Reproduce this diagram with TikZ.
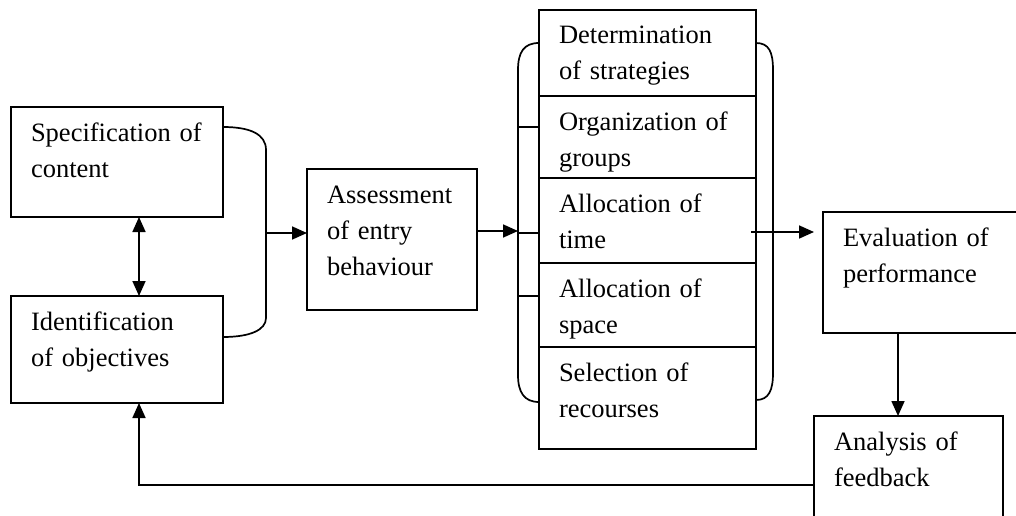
\documentclass[tikz,border=0pt]{standalone}
\usepackage{fontspec}
\setmainfont{Liberation Serif}
\usetikzlibrary{arrows.meta,positioning,calc}
\tikzset{
  blk/.style={draw, line width=1.7pt, anchor=north west, align=left, outer sep=0pt,
    inner xsep=20pt, inner ysep=8pt, text height=26pt, font=\fontsize{26.5}{36}\selectfont},
  cell/.style={blk, text width=177pt},
  link/.style={line width=1.7pt},
  arr/.style={link, -{Triangle[length=15pt,width=13pt]}},
  darr/.style={link, {Triangle[length=15pt,width=13pt]}-{Triangle[length=15pt,width=13pt]}},
}

\begin{document}
\begin{tikzpicture}[x=1pt,y=-1pt]
\useasboundingbox (0,0) rectangle (1016,516);
% left pair and entry box
\node[blk, text width=172pt, text depth=68pt] (spec) at (11,107) {Specification of\\content};
\node[blk, text width=172pt, text depth=65pt] (ident) at (11,296) {Identification\\of objectives};
\node[blk, text width=130pt, text depth=99pt] (assess) at (307,169) {Assessment\\of entry\\behaviour};
% middle column
\node[cell, text depth=44pt] (det) at (539,10) {Determination\\of strategies};
\node[cell, text depth=40pt] (org) at (det.south west) {Organization of\\groups};
\node[cell, text depth=43pt] (time) at (org.south west) {Allocation of\\time};
\node[cell, text depth=42pt] (space) at (time.south west) {Allocation of\\space};
\node[cell, text depth=60pt] (res) at (space.south west) {Selection of\\recourses};
% right side
\node[blk, text width=160pt, text depth=79pt] (eval) at (823,212) {Evaluation of\\performance};
\node[blk, text width=149pt, text depth=96pt] (ana) at (814,416) {Analysis of\\feedback};

% brackets
\draw[link] ([yshift=-20pt]spec.north east) .. controls (250,127) and (266,134) .. (266,150)
  -- (266,318) .. controls (266,330) and (250,337) .. ([yshift=-41pt]ident.north east);
\draw[link] ([yshift=-33pt]det.north west) .. controls (524,43) and (518,52) .. (518,70)
  -- (518,375) .. controls (518,392) and (524,402) .. (539,402);
\draw[link] ([yshift=-33pt]det.north east) .. controls (769,43) and (773,52) .. (773,70)
  -- (773,373) .. controls (773,390) and (769,400) .. (756,400);
\foreach \y in {127,233,296}
  \draw[link] (518,\y) -- (det.west |- 0,\y);

% connectors
\draw[darr] ([xshift=22pt]spec.south) -- ([xshift=22pt]ident.north);
\coordinate (jl) at (266,233);
\draw[arr] (jl) -- (jl -| assess.west);
\coordinate (jc) at (518,231);
\draw[arr] (jc -| assess.east) -- (jc);
\coordinate (jr) at (751,232);
\draw[arr, shorten >=9pt] (jr) -- (jr -| eval.west);
\coordinate (dn) at (898,0);
\draw[arr] (eval.south -| dn) -- (ana.north -| dn);
\draw[arr] (ana.west) -| ([xshift=22pt]ident.south);
\end{tikzpicture}
\end{document}
